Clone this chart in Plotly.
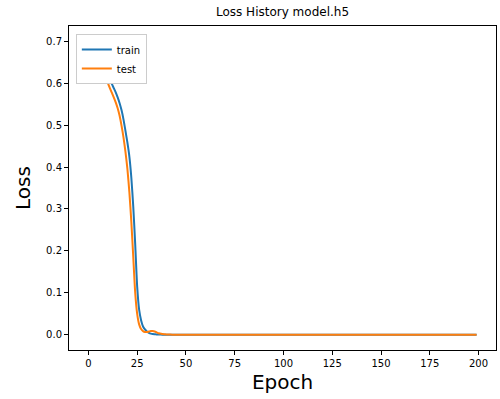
import plotly.graph_objects as go

epochs = list(range(200))

train_head = [0.706, 0.700, 0.694, 0.687, 0.680, 0.672, 0.664, 0.655, 0.646, 0.635,
              0.622, 0.609, 0.598, 0.588, 0.578, 0.566, 0.552, 0.535, 0.513, 0.486,
              0.458, 0.425, 0.375, 0.305, 0.215, 0.115, 0.060, 0.035, 0.020, 0.013,
              0.008, 0.005, 0.003, 0.002, 0.0015, 0.001, 0.0008, 0.0007, 0.0006, 0.0006]
test_head = [0.698, 0.692, 0.685, 0.678, 0.670, 0.661, 0.651, 0.640, 0.628, 0.614,
             0.600, 0.588, 0.577, 0.566, 0.554, 0.540, 0.522, 0.498, 0.470, 0.436,
             0.395, 0.340, 0.270, 0.185, 0.100, 0.050, 0.025, 0.014, 0.009, 0.007,
             0.007, 0.008, 0.009, 0.009, 0.008, 0.006, 0.004, 0.003, 0.002, 0.0015]
train_tail = [0.0005, 0.0005, 0.0005, 0.0004, 0.0004, 0.0004, 0.0004, 0.0003, 0.0003, 0.0003,
              0.0003, 0.0003, 0.0003, 0.0002, 0.0002, 0.0002, 0.0002, 0.0002, 0.0002, 0.0002,
              0.0002, 0.0002, 0.0002, 0.0002, 0.0002, 0.0001, 0.0001, 0.0001, 0.0001, 0.0001,
              0.0001, 0.0001, 0.0001, 0.0001, 0.0001, 0.0001, 0.0001, 0.0001, 0.0001, 0.0001,
              0.0001, 0.0001, 0.0001, 0.0001, 0.0001, 0.0001, 0.0001, 0.0001, 0.0001, 0.0001,
              0.0001, 0.0001, 0.0001, 0.0001, 0.0001, 0.0001, 0.0001, 0.0001, 0.0001, 0.0001,
              0.0001, 0.0001, 0.0001, 0.0001, 0.0001, 0.0001, 0.0001, 0.0001, 0.0001, 0.0001,
              0.0001, 0.0001, 0.0001, 0.0001, 0.0001, 0.0001, 0.0001, 0.0001, 0.0001, 0.0001,
              0.0001, 0.0001, 0.0001, 0.0001, 0.0001, 0.0001, 0.0001, 0.0001, 0.0001, 0.0001,
              0.0001, 0.0001, 0.0001, 0.0001, 0.0001, 0.0001, 0.0001, 0.0001, 0.0001, 0.0001,
              0.0001, 0.0001, 0.0001, 0.0001, 0.0001, 0.0001, 0.0001, 0.0001, 0.0001, 0.0001,
              0.0001, 0.0001, 0.0001, 0.0001, 0.0001, 0.0001, 0.0001, 0.0001, 0.0001, 0.0001,
              0.0001, 0.0001, 0.0001, 0.0001, 0.0001, 0.0001, 0.0001, 0.0001, 0.0001, 0.0001,
              0.0001, 0.0001, 0.0001, 0.0001, 0.0001, 0.0001, 0.0001, 0.0001, 0.0001, 0.0001,
              0.0001, 0.0001, 0.0001, 0.0001, 0.0001, 0.0001, 0.0001, 0.0001, 0.0001, 0.0001,
              0.0001, 0.0001, 0.0001, 0.0001, 0.0001, 0.0001, 0.0001, 0.0001, 0.0001, 0.0001]
test_tail = [0.0010, 0.0008, 0.0007, 0.0006, 0.0006, 0.0005, 0.0005, 0.0005, 0.0004, 0.0004,
             0.0004, 0.0004, 0.0004, 0.0003, 0.0003, 0.0003, 0.0003, 0.0003, 0.0003, 0.0003,
             0.0003, 0.0003, 0.0003, 0.0003, 0.0003, 0.0002, 0.0002, 0.0002, 0.0002, 0.0002,
             0.0002, 0.0002, 0.0002, 0.0002, 0.0002, 0.0002, 0.0002, 0.0002, 0.0002, 0.0002,
             0.0002, 0.0002, 0.0002, 0.0002, 0.0002, 0.0002, 0.0002, 0.0002, 0.0002, 0.0002,
             0.0002, 0.0002, 0.0002, 0.0002, 0.0002, 0.0002, 0.0002, 0.0002, 0.0002, 0.0002,
             0.0002, 0.0002, 0.0002, 0.0002, 0.0002, 0.0002, 0.0002, 0.0002, 0.0002, 0.0002,
             0.0002, 0.0002, 0.0002, 0.0002, 0.0002, 0.0002, 0.0002, 0.0002, 0.0002, 0.0002,
             0.0002, 0.0002, 0.0002, 0.0002, 0.0002, 0.0002, 0.0002, 0.0002, 0.0002, 0.0002,
             0.0002, 0.0002, 0.0002, 0.0002, 0.0002, 0.0002, 0.0002, 0.0002, 0.0002, 0.0002,
             0.0002, 0.0002, 0.0002, 0.0002, 0.0002, 0.0002, 0.0002, 0.0002, 0.0002, 0.0002,
             0.0002, 0.0002, 0.0002, 0.0002, 0.0002, 0.0002, 0.0002, 0.0002, 0.0002, 0.0002,
             0.0002, 0.0002, 0.0002, 0.0002, 0.0002, 0.0002, 0.0002, 0.0002, 0.0002, 0.0002,
             0.0002, 0.0002, 0.0002, 0.0002, 0.0002, 0.0002, 0.0002, 0.0002, 0.0002, 0.0002,
             0.0002, 0.0002, 0.0002, 0.0002, 0.0002, 0.0002, 0.0002, 0.0002, 0.0002, 0.0002,
             0.0002, 0.0002, 0.0002, 0.0002, 0.0002, 0.0002, 0.0002, 0.0002, 0.0002, 0.0002]

train_loss = train_head + train_tail
test_loss = test_head + test_tail

x_ticks = [0, 25, 50, 75, 100, 125, 150, 175, 200]
y_ticks = [0.0, 0.1, 0.2, 0.3, 0.4, 0.5, 0.6, 0.7]

font_family = "DejaVu Sans"

fig = go.Figure()
fig.add_trace(go.Scatter(x=epochs, y=train_loss, mode="lines", name="train",
                         line=dict(color="#1f77b4", width=2, shape="spline", smoothing=0.6)))
fig.add_trace(go.Scatter(x=epochs, y=test_loss, mode="lines", name="test",
                         line=dict(color="#ff7f0e", width=2, shape="spline", smoothing=0.6)))

axis_common = dict(showline=True, linecolor="black", linewidth=1, mirror=True,
                   ticks="outside", ticklen=4, tickcolor="black", tickwidth=1,
                   showgrid=False, zeroline=False,
                   tickfont=dict(family=font_family, size=10, color="black"))

fig.update_layout(
    width=500, height=399,
    margin=dict(l=69, r=4, t=26, b=49),
    paper_bgcolor="white", plot_bgcolor="white",
    font=dict(family=font_family, color="black"),
    title=dict(text="Loss History model.h5", x=0.5, xref="paper", xanchor="center",
               y=1 - 12 / 399, yref="container", yanchor="middle",
               font=dict(family=font_family, size=12, color="black")),
    xaxis=dict(range=[-9.95, 208.95], tickvals=x_ticks,
               title=dict(text="Epoch", font=dict(family=font_family, size=20), standoff=6),
               **axis_common),
    yaxis=dict(range=[-0.036, 0.736], tickvals=y_ticks, tickformat=".1f",
               title=dict(text="Loss", font=dict(family=font_family, size=20), standoff=10),
               **axis_common),
    legend=dict(x=0.016, y=0.975, xanchor="left", yanchor="top",
                bgcolor="white", bordercolor="#cccccc", borderwidth=1,
                font=dict(family=font_family, size=10, color="black"),
                itemwidth=30, tracegroupgap=0),
    showlegend=True,
)

fig.write_html("out.html")
